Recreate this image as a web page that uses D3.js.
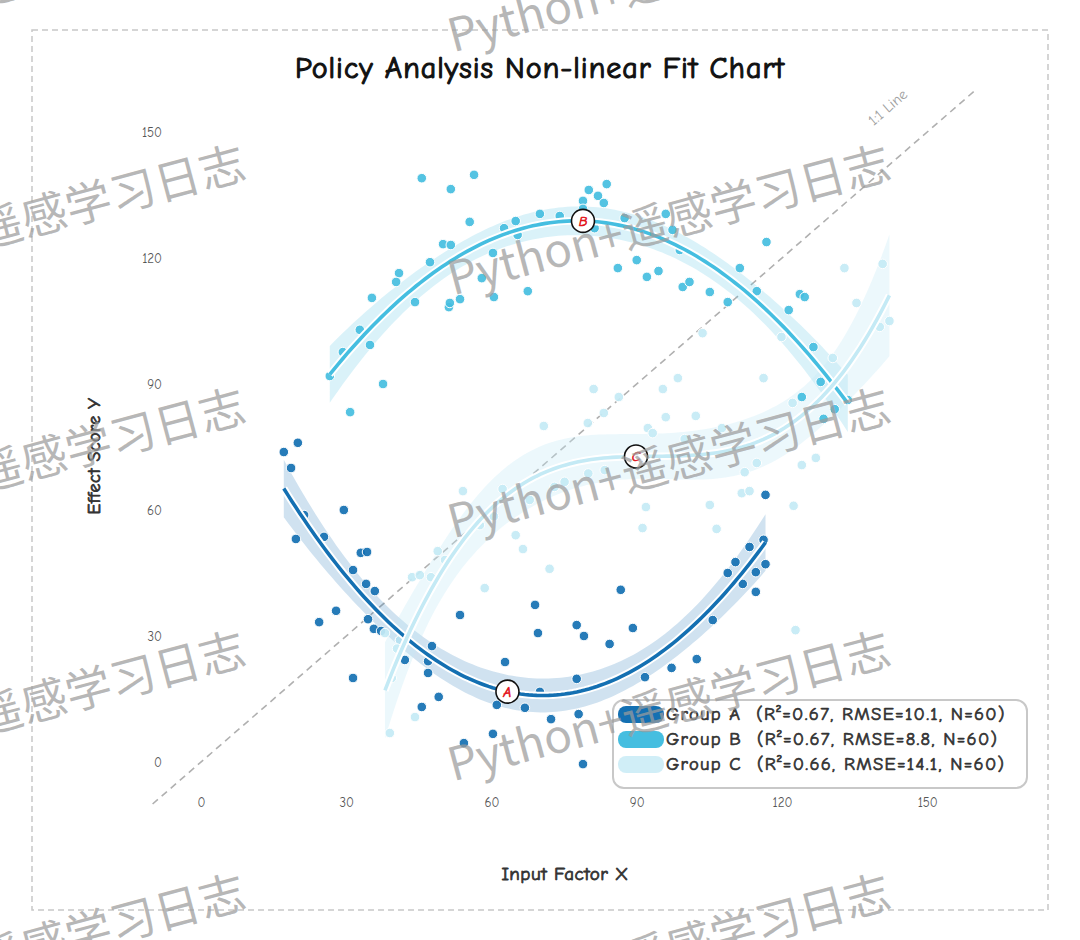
<!DOCTYPE html>
<meta charset="utf-8">
<style>
body { margin: 0; background: #fff; }
svg { display: block; }
</style>
<svg width="1080" height="940"></svg>
<script src="https://d3js.org/d3.v7.min.js"></script>
<script>
// ---- data ----
const groups = ['A', 'B', 'C'];
const groupNames = ['Group A', 'Group B', 'Group C'];
const groupStats = ['(R²=0.67, RMSE=10.1, N=60)', '(R²=0.67, RMSE=8.8, N=60)', '(R²=0.66, RMSE=14.1, N=60)'];
const fitDegree = [2, 2, 3];
const xTicks = [0, 30, 60, 90, 120, 150];
const yTicks = [0, 30, 60, 90, 120, 150];

const xA = [17.1, 20.0, 18.6, 29.5, 19.6, 21.3, 25.4, 33.0, 34.3, 31.4, 34.1, 35.9, 27.9, 24.4, 34.5,
  35.7, 37.2, 47.7, 42.1, 46.9, 46.9, 31.4, 49.1, 45.6, 53.5, 62.8, 69.0, 69.6, 77.6, 79.1,
  84.4, 86.7, 89.2, 77.6, 70.0, 61.1, 66.9, 72.3, 78.0, 60.3, 54.3, 78.9, 91.7, 97.2, 102.4,
  105.7, 108.8, 110.4, 113.3, 116.2, 114.6, 116.6, 111.9, 114.6, 116.6, 63.8, 41.1, 87.5, 89.4, 91.0];
const yA = [73.8, 76.0, 70.0, 60.0, 53.1, 58.8, 53.6, 49.8, 50.0, 45.7, 42.4, 40.7, 36.0, 33.3, 34.0,
  31.7, 31.2, 27.6, 24.3, 24.0, 21.2, 20.0, 15.5, 13.1, 35.0, 23.8, 37.4, 30.7, 32.6, 30.0,
  28.1, 41.0, 31.9, 19.8, 16.7, 13.6, 12.9, 10.2, 11.4, 6.7, 4.5, -0.5, 20.2, 22.4, 24.5,
  33.8, 45.0, 47.6, 51.2, 52.9, 45.2, 47.1, 42.4, 40.5, 63.6, 17.6, 29.0, 11.9, 11.7, 12.1];

const xB = [45.6, 56.4, 51.6, 80.1, 83.8, 82.0, 83.2, 78.9, 96.0, 55.5, 65.0, 62.6, 65.4, 50.0, 51.6,
  60.3, 40.9, 40.3, 35.3, 44.2, 58.0, 53.5, 51.2, 51.4, 60.5, 67.5, 86.1, 90.0, 92.1, 94.5,
  29.3, 34.9, 37.6, 81.3, 97.4, 98.9, 116.8, 99.5, 100.9, 105.1, 108.8, 114.8, 123.7, 124.7, 121.4,
  126.5, 128.0, 124.1, 130.9, 128.6, 30.8, 78.9, 26.6, 133.6, 74.1, 70.0, 87.5, 111.3, 47.3, 32.8];
const yB = [139.0, 139.8, 136.4, 136.2, 137.6, 134.8, 133.1, 133.6, 130.5, 128.6, 128.8, 127.1, 125.5, 123.3, 123.1,
  121.2, 116.4, 114.3, 110.5, 109.5, 115.2, 110.2, 108.3, 109.3, 110.7, 112.1, 117.6, 119.5, 115.5, 116.9,
  97.6, 99.3, 90.0, 127.1, 126.7, 121.9, 123.8, 113.1, 114.3, 111.9, 109.5, 112.1, 111.4, 110.7, 107.6,
  98.8, 90.5, 86.9, 84.0, 81.7, 83.3, 131.7, 91.9, 86.2, 130.0, 130.5, 129.5, 117.6, 119.0, 102.9];

const xC = [81.1, 86.3, 83.2, 79.9, 95.4, 98.5, 116.2, 96.0, 102.2, 92.3, 93.3, 99.9, 107.6, 70.8, 112.3,
  114.8, 111.7, 113.3, 105.1, 91.9, 91.2, 106.5, 132.9, 140.8, 135.4, 140.2, 142.2, 119.9, 130.5, 103.6,
  122.2, 124.1, 127.0, 122.4, 122.8, 54.1, 62.3, 65.0, 66.5, 58.6, 48.9, 43.6, 45.2, 72.0, 38.0,
  39.4, 44.2, 39.0, 88.5, 41.1, 50.4, 57.6, 67.9, 75.1, 83.4, 40.5, 47.5, 60.5, 73.0, 80.0];
const yC = [88.8, 86.9, 83.1, 80.7, 88.8, 91.4, 91.4, 82.1, 82.4, 79.5, 78.3, 76.9, 79.5, 80.0, 69.0,
  71.2, 64.0, 64.5, 61.2, 60.7, 55.7, 55.5, 117.6, 118.6, 109.3, 103.6, 105.0, 101.2, 96.2, 102.1,
  85.5, 70.7, 72.4, 61.0, 31.4, 64.5, 65.0, 54.0, 50.7, 41.4, 50.2, 44.0, 44.5, 46.0, 30.7,
  20.0, 10.7, 6.9, 71.8, 29.0, 48.1, 56.4, 62.4, 66.7, 69.5, 27.0, 44.0, 58.5, 65.5, 68.7];

const xData = [xA, xB, xC];
const yData = [yA, yB, yC];
const colors = ['#1470b2', '#45bee0', '#c4eaf5'];
const bandOpacity = [0.2, 0.2, 0.32];

const svg = d3.select('svg'),
      W = +svg.attr('width'), H = +svg.attr('height');

svg.append('rect').attr('width', W).attr('height', H).attr('fill', '#fff');
svg.append('rect')
	.attr('x', 32).attr('y', 30).attr('width', 1016).attr('height', 880)
	.attr('fill', 'none').attr('stroke', '#c8c8c8').attr('stroke-width', 1.5)
	.attr('stroke-dasharray', '6,4');

const x = d3.scaleLinear().domain([-10, 160]).range([152.6, 975.6]),
      y = d3.scaleLinear().domain([-10, 160]).range([804, 90]);

const font = "'Comic Sans MS', 'Comic Neue', Lato, sans-serif";

// fake bold: the comic fallback has no bold face
function bold(sel, color, w) {
	return sel.attr('fill', color).attr('stroke', color).attr('stroke-width', w || 0.7);
}

// least squares polynomial fit + 95% confidence band
function invert(M) {
	const n = M.length;
	const A = M.map((r, i) => r.concat(d3.range(n).map(j => i === j ? 1 : 0)));
	for (let c = 0; c < n; c++) {
		let piv = c;
		for (let r = c + 1; r < n; r++) if (Math.abs(A[r][c]) > Math.abs(A[piv][c])) piv = r;
		[A[c], A[piv]] = [A[piv], A[c]];
		const d = A[c][c];
		for (let j = 0; j < 2 * n; j++) A[c][j] /= d;
		for (let r = 0; r < n; r++) {
			if (r === c) continue;
			const f = A[r][c];
			for (let j = 0; j < 2 * n; j++) A[r][j] -= f * A[c][j];
		}
	}
	return A.map(r => r.slice(n));
}

function polyFit(xs, ys, deg) {
	const n = xs.length, p = deg + 1;
	const mx = d3.mean(xs), sx = d3.deviation(xs);
	const row = v => d3.range(p).map(k => Math.pow((v - mx) / sx, k));
	const XtX = d3.range(p).map(() => new Array(p).fill(0));
	const Xty = new Array(p).fill(0);
	xs.forEach((v, i) => {
		const r = row(v);
		for (let a = 0; a < p; a++) {
			Xty[a] += r[a] * ys[i];
			for (let b = 0; b < p; b++) XtX[a][b] += r[a] * r[b];
		}
	});
	const inv = invert(XtX);
	const beta = inv.map(r => d3.sum(r, (v, j) => v * Xty[j]));
	const predict = v => d3.sum(row(v), (t, k) => t * beta[k]);
	const sse = d3.sum(xs, (v, i) => (ys[i] - predict(v)) ** 2);
	const s = Math.sqrt(sse / (n - p));
	const se = v => {
		const r = row(v);
		let q = 0;
		for (let a = 0; a < p; a++) for (let b = 0; b < p; b++) q += r[a] * inv[a][b] * r[b];
		return s * Math.sqrt(q);
	};
	return { predict, se };
}

// 1:1 reference line
svg.append('line')
	.attr('x1', x(-10)).attr('y1', y(-10)).attr('x2', x(160)).attr('y2', y(160))
	.attr('stroke', '#b0b0b0').attr('stroke-width', 1.6).attr('stroke-dasharray', '7,5');
const ang = Math.atan2(y(160) - y(-10), x(160) - x(-10)) * 180 / Math.PI;
svg.append('text')
	.attr('transform', `translate(${x(142.5)},${y(155)}) rotate(${ang})`)
	.attr('text-anchor', 'middle')
	.style('font-family', font).style('font-size', '15px').attr('fill', '#a0a0a0')
	.text('1:1 Line');

const fits = groups.map((g, i) => {
	const f = polyFit(xData[i], yData[i], fitDegree[i]);
	const [lo, hi] = d3.extent(xData[i]);
	const pts = d3.range(0, 121).map(k => {
		const xv = lo + (hi - lo) * k / 120;
		const yv = f.predict(xv), e = 2.0 * f.se(xv);
		return { x: xv, y: yv, lo: yv - e, hi: yv + e };
	});
	return { f, pts };
});

const area = d3.area().x(d => x(d.x)).y0(d => y(d.lo)).y1(d => y(d.hi));
const line = d3.line().x(d => x(d.x)).y(d => y(d.y));

// bands
svg.append('g').selectAll('path').data(fits).join('path')
	.attr('d', d => area(d.pts))
	.attr('fill', (d, i) => colors[i])
	.attr('fill-opacity', (d, i) => bandOpacity[i]);

// points
groups.forEach((g, i) => {
	svg.append('g').selectAll('circle')
		.data(xData[i].map((v, j) => [v, yData[i][j]]))
		.join('circle')
		.attr('cx', d => x(d[0])).attr('cy', d => y(d[1])).attr('r', 4.8)
		.attr('fill', colors[i]).attr('fill-opacity', 0.92)
		.attr('stroke', '#fff').attr('stroke-width', 1);
});

// fit lines with white halo
groups.forEach((g, i) => {
	svg.append('path').attr('d', line(fits[i].pts))
		.attr('fill', 'none').attr('stroke', '#fff').attr('stroke-width', 7.5);
	svg.append('path').attr('d', line(fits[i].pts))
		.attr('fill', 'none').attr('stroke', colors[i]).attr('stroke-width', 3.6);
});

// group markers at median x
groups.forEach((g, i) => {
	const mx = d3.median(xData[i]);
	const cx = x(mx), cy = y(fits[i].f.predict(mx));
	svg.append('circle').attr('cx', cx).attr('cy', cy).attr('r', 11.5)
		.attr('fill', '#fff').attr('stroke', '#111').attr('stroke-width', 1.6);
	bold(svg.append('text').attr('x', cx).attr('y', cy).attr('dy', '0.36em')
		.attr('text-anchor', 'middle')
		.style('font-family', font).style('font-size', '14px')
		.style('font-style', 'italic'), '#e3141b', 0.6).text(g);
});

// axes
const xAxis = svg.append('g').attr('transform', 'translate(0,792)')
	.call(d3.axisBottom(x).tickValues(xTicks).tickSize(0).tickPadding(6));
const yAxis = svg.append('g').attr('transform', 'translate(170,0)')
	.call(d3.axisLeft(y).tickValues(yTicks).tickSize(0).tickPadding(8));
[xAxis, yAxis].forEach(a => {
	a.select('.domain').remove();
	a.selectAll('text').style('font-family', font).style('font-size', '13px').attr('fill', '#555');
});

// titles
bold(svg.append('text').attr('x', 540).attr('y', 78).attr('text-anchor', 'middle')
	.style('font-family', font).style('font-size', '30px').style('letter-spacing', '1px'), '#111', 1.1)
	.text('Policy Analysis Non-linear Fit Chart');
bold(svg.append('text').attr('x', 565).attr('y', 880).attr('text-anchor', 'middle')
	.style('font-family', font).style('font-size', '19px').style('letter-spacing', '0.5px'), '#333', 0.8)
	.text('Input Factor X');
bold(svg.append('text').attr('transform', 'translate(100,456) rotate(-90)').attr('text-anchor', 'middle')
	.style('font-family', font).style('font-size', '18px').style('letter-spacing', '0.5px'), '#333', 0.8)
	.text('Effect Score Y');

// legend
const lg = svg.append('g').attr('transform', 'translate(613,700)');
lg.append('rect').attr('width', 414).attr('height', 88).attr('rx', 11)
	.attr('fill', '#fff').attr('fill-opacity', 0.85)
	.attr('stroke', '#c8c8c8').attr('stroke-width', 2);
groups.forEach((g, i) => {
	const row = lg.append('g').attr('transform', `translate(0,${14 + i * 25})`);
	row.append('rect').attr('x', 5).attr('y', -8).attr('width', 46).attr('height', 17).attr('rx', 8)
		.attr('fill', colors[i]).attr('fill-opacity', i === 2 ? 0.8 : 1);
	bold(row.append('text').attr('x', 53).attr('dy', '0.35em')
		.style('font-family', font).style('font-size', '18.5px').style('letter-spacing', '1.3px')
		.style('white-space', 'pre'), '#333', 0.7)
		.text(groupNames[i] + '  ' + groupStats[i]);
});

// watermark
const wm = svg.append('g').style('pointer-events', 'none');
for (let r = 0; r < 5; r++) {
	for (let c = 0; c < 2; c++) {
		wm.append('text')
			.attr('transform', `translate(${24 + 645 * c},${-22 + 243 * r}) rotate(-15)`)
			.attr('text-anchor', 'middle').attr('dy', '0.35em')
			.style('font-family', "'Noto Sans CJK SC', 'Noto Sans', sans-serif")
			.style('font-size', '46px')
			.attr('fill', '#9c9c9c').attr('fill-opacity', 0.72)
			.text('Python+遥感学习日志');
	}
}
</script>
